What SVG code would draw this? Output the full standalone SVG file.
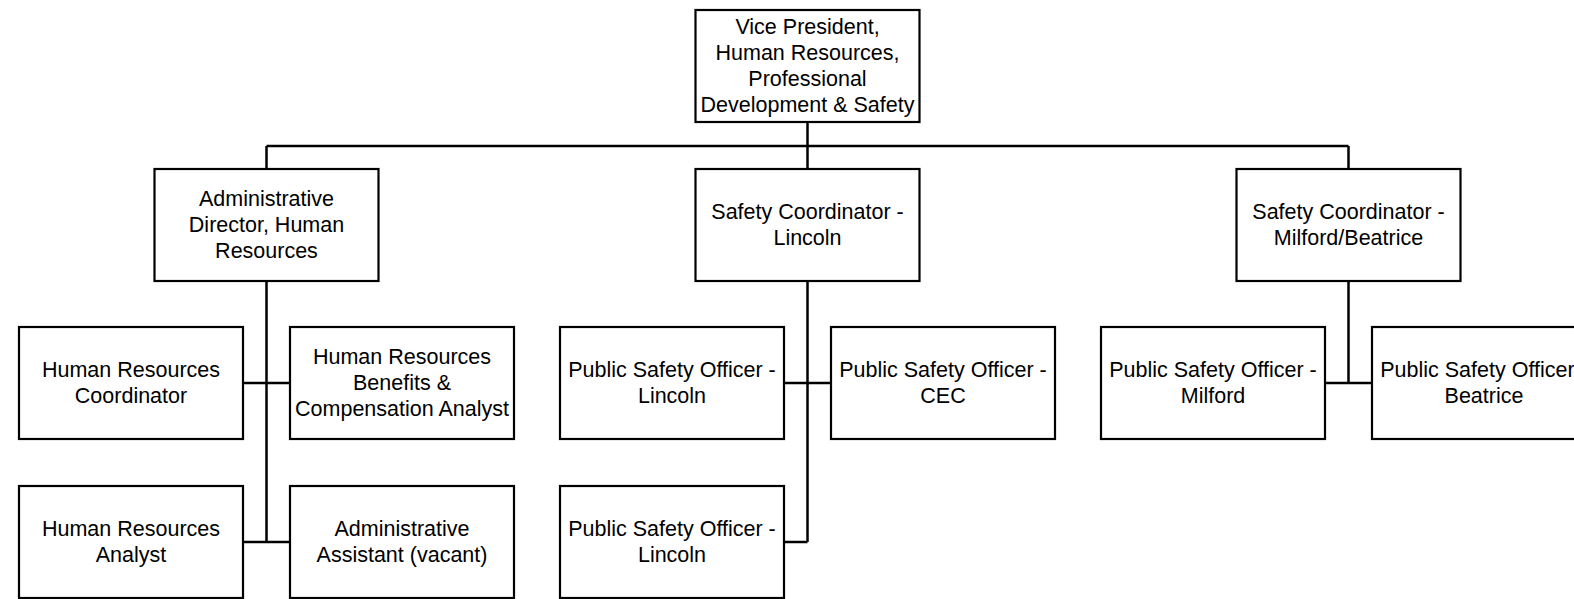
<svg xmlns="http://www.w3.org/2000/svg" width="1574" height="599" viewBox="0 0 1574 599">
<style>
rect.box{fill:#fff;stroke:#000;stroke-width:2.2}
text{font-family:"Liberation Sans",Arial,sans-serif;font-size:21.5px;fill:#000;text-anchor:middle}
.conn path{fill:none;stroke:#000;stroke-width:2.5}
</style>
<rect width="1574" height="599" fill="#fff"/>
<g class="conn">
<path d="M807.5 122 V169 M266.5 146 H1348.5 M266.5 146 V169 M1348.5 146 V169"/>
<path d="M266.5 281 V542 M243 383 H290 M243 542 H290"/>
<path d="M807.5 281 V542 M784 383 H831 M784 542 H807.5"/>
<path d="M1348.5 281 V383 M1325 383 H1372"/>
</g>
<g id="vp"><rect class="box" x="695.5" y="10" width="224" height="112"/>
<text x="807.5" y="34">Vice President,</text><text x="807.5" y="60">Human Resources,</text><text x="807.5" y="86">Professional</text><text x="807.5" y="112">Development &amp; Safety</text></g>
<g id="admin-director"><rect class="box" x="154.5" y="169" width="224" height="112"/>
<text x="266.5" y="206">Administrative</text><text x="266.5" y="232">Director, Human</text><text x="266.5" y="258">Resources</text></g>
<g id="safety-lincoln"><rect class="box" x="695.5" y="169" width="224" height="112"/>
<text x="807.5" y="219">Safety Coordinator -</text><text x="807.5" y="245">Lincoln</text></g>
<g id="safety-milford"><rect class="box" x="1236.5" y="169" width="224" height="112"/>
<text x="1348.5" y="219">Safety Coordinator -</text><text x="1348.5" y="245">Milford/Beatrice</text></g>
<g id="hr-coordinator"><rect class="box" x="19" y="327" width="224" height="112"/>
<text x="131" y="377">Human Resources</text><text x="131" y="403">Coordinator</text></g>
<g id="hr-benefits"><rect class="box" x="290" y="327" width="224" height="112"/>
<text x="402" y="364">Human Resources</text><text x="402" y="390">Benefits &amp;</text><text x="402" y="416">Compensation Analyst</text></g>
<g id="hr-analyst"><rect class="box" x="19" y="486" width="224" height="112"/>
<text x="131" y="536">Human Resources</text><text x="131" y="562">Analyst</text></g>
<g id="admin-assistant"><rect class="box" x="290" y="486" width="224" height="112"/>
<text x="402" y="536">Administrative</text><text x="402" y="562">Assistant (vacant)</text></g>
<g id="pso-lincoln-1"><rect class="box" x="560" y="327" width="224" height="112"/>
<text x="672" y="377">Public Safety Officer -</text><text x="672" y="403">Lincoln</text></g>
<g id="pso-cec"><rect class="box" x="831" y="327" width="224" height="112"/>
<text x="943" y="377">Public Safety Officer -</text><text x="943" y="403">CEC</text></g>
<g id="pso-lincoln-2"><rect class="box" x="560" y="486" width="224" height="112"/>
<text x="672" y="536">Public Safety Officer -</text><text x="672" y="562">Lincoln</text></g>
<g id="pso-milford"><rect class="box" x="1101" y="327" width="224" height="112"/>
<text x="1213" y="377">Public Safety Officer -</text><text x="1213" y="403">Milford</text></g>
<g id="pso-beatrice"><rect class="box" x="1372" y="327" width="224" height="112"/>
<text x="1484" y="377">Public Safety Officer -</text><text x="1484" y="403">Beatrice</text></g>
</svg>
